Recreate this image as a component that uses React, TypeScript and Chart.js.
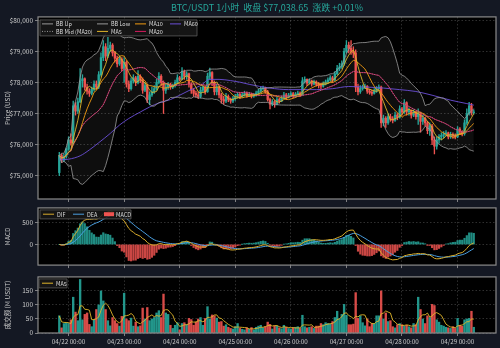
import React, { useEffect, useRef } from 'react';
import { Chart, registerables } from 'chart.js';

Chart.register(...registerables);

const FONT = "'Noto Sans CJK SC', 'Noto Sans', sans-serif";
const UP = '#26a69a';
const DOWN = '#ef5350';
const TEXT = '#c8c8c8';
const GRID = 'rgba(170,170,170,0.35)';

const titleText = 'BTC/USDT 1小时  收盘 $77,038.65  涨跌 +0.01%';

// hour offsets relative to 04/22 00:00
const START_HOUR = -4;
const X_MIN = -13.2;
const X_MAX = 184.6;
const firstOpen = 75100;
const PRICE_MIN = 74250;
const PRICE_MAX = 80110;

const closes = [
  75650, 75500, 75620, 75850, 76150, 76050, 77250, 77080, 77380, 78050,
  78120, 77850, 77720, 77650, 77780, 77950, 77850, 78250, 78800, 79150,
  78850, 79100, 79200, 78950, 78780, 78600, 78750, 78450, 78650, 77950,
  77800, 78050, 78150, 78000, 78200, 78100, 77750, 77900, 77450, 77600,
  77700, 77800, 78000, 78200, 78000, 77750, 77850, 77950, 77850, 77900,
  78000, 78150, 78100, 78350, 78200, 78280, 77950, 77750, 77650, 77600,
  77550, 77750, 77850, 77700, 78200, 78320, 78000, 77700, 77850, 77600,
  77450, 77400, 77550, 77450, 77400, 77480, 77550, 77620, 77550, 77600,
  77650, 77580, 77620, 77560, 77600, 77660, 77720, 77800, 77820, 77700,
  77450, 77300, 77380, 77300, 77450, 77400, 77500, 77600, 77520, 77580,
  77640, 77560, 77620, 77660, 77600, 78050, 78100, 77980, 78050, 77950,
  78020, 77940, 77900, 77880, 77960, 78020, 78080, 78150, 78080, 78280,
  78450, 78500, 78600, 79000, 79200, 79100, 79000, 78950, 77850, 77700,
  77800, 77850, 77880, 77720, 77680, 77650, 77720, 77800, 77850, 76700,
  76850, 76700, 76900, 76820, 76780, 76950, 76880, 77150, 77050, 77350,
  77050, 77100, 76950, 77050, 76900, 77000, 76750, 76850, 76700, 76450,
  76600, 76150, 75950, 76150, 76250, 76300, 76350, 76380, 76250, 76320,
  76280, 76250, 76500, 76400, 76350, 76700, 77000, 77250, 77030, 77038.65,
];

const highs = [
  75750, 75700, 75700, 75900, 76250, 76350, 77400, 77350, 77500, 78450,
  78250, 78150, 77950, 77800, 77850, 78050, 78050, 78350, 78950, 79350,
  79250, 79450, 79300, 79250, 79000, 78850, 78850, 78800, 78800, 78700,
  78050, 78150, 78250, 78200, 78380, 78250, 78150, 78000, 77950, 77700,
  77850, 77900, 78100, 78320, 78250, 78050, 77950, 78000, 77980, 77950,
  78080, 78250, 78200, 78480, 78400, 78350, 78300, 78000, 77800, 77720,
  77700, 77850, 77900, 77880, 78300, 78460, 78350, 78050, 77950, 77880,
  77650, 77550, 77650, 77600, 77500, 77550, 77620, 77680, 77650, 77680,
  77720, 77700, 77680, 77650, 77650, 77720, 77780, 77850, 77880, 77850,
  77750, 77500, 77450, 77420, 77520, 77500, 77560, 77680, 77650, 77650,
  77700, 77680, 77680, 77720, 77700, 78160, 78180, 78120, 78120, 78080,
  78080, 78050, 78000, 77980, 78020, 78080, 78150, 78220, 78200, 78350,
  78550, 78620, 78700, 79100, 79350, 79300, 79350, 79150, 79050, 77950,
  77900, 77920, 77950, 77900, 77780, 77750, 77800, 77870, 77920, 77880,
  76950, 76900, 77000, 76980, 76900, 77050, 77000, 77250, 77200, 77450,
  77380, 77180, 77120, 77120, 77080, 77150, 77050, 76950, 76880, 76750,
  76700, 76650, 76250, 76250, 76320, 76380, 76420, 76450, 76400, 76400,
  76380, 76350, 76580, 76550, 76450, 76800, 77150, 77360, 77330, 77120,
];

const lows = [
  75000, 75420, 75450, 75560, 75820, 75980, 76000, 76950, 77000, 77350,
  77850, 77750, 77620, 77550, 77600, 77720, 77780, 77800, 78200, 78700,
  78700, 78800, 79000, 78850, 78650, 78500, 78550, 78380, 78000, 77850,
  77700, 77750, 77980, 77900, 77950, 78000, 77650, 77700, 77350, 77280,
  77550, 77650, 77750, 77950, 77900, 77000, 77650, 77780, 77780, 77800,
  77850, 77950, 78050, 78080, 78100, 78100, 77850, 77650, 77550, 77520,
  77480, 77500, 77700, 77620, 77680, 78100, 77900, 77600, 77600, 77500,
  77330, 77300, 77350, 77380, 77330, 77350, 77420, 77500, 77480, 77520,
  77560, 77520, 77540, 77500, 77520, 77560, 77620, 77680, 77750, 77650,
  77400, 77150, 77250, 77200, 77280, 77330, 77380, 77480, 77450, 77500,
  77550, 77500, 77520, 77580, 77540, 77580, 77980, 77900, 77950, 77880,
  77920, 77880, 77820, 77800, 77850, 77920, 77980, 78050, 78000, 78050,
  78250, 78380, 78450, 78550, 78950, 78950, 78900, 78800, 77700, 77600,
  77650, 77750, 77800, 77650, 77620, 77580, 77620, 77680, 77750, 76550,
  76600, 76550, 76650, 76750, 76700, 76750, 76800, 76850, 76950, 77000,
  76950, 76950, 76850, 76900, 76820, 76650, 76400, 76650, 76600, 76350,
  76300, 76000, 75700, 75850, 76050, 76150, 76220, 76280, 76180, 76200,
  76200, 76180, 76220, 76320, 76280, 76300, 76650, 76950, 76950, 76980,
];

const volumes = [
  60, 18, 33, 36, 33, 46, 125, 73, 43, 187,
  46, 65, 70, 30, 22, 46, 82, 98, 147, 112,
  82, 43, 25, 54, 43, 33, 24, 58, 139, 49,
  43, 52, 24, 38, 22, 25, 87, 49, 89, 43,
  49, 54, 70, 78, 54, 136, 70, 65, 27, 16,
  27, 36, 11, 33, 36, 29, 51, 47, 27, 38,
  49, 54, 27, 51, 92, 49, 63, 60, 52, 38,
  40, 24, 29, 20, 16, 14, 22, 33, 16, 13,
  11, 18, 13, 19, 11, 20, 24, 27, 18, 22,
  38, 30, 14, 25, 24, 18, 15, 27, 20, 16,
  14, 18, 20, 22, 16, 62, 22, 18, 20, 22,
  16, 24, 24, 33, 29, 36, 33, 31, 40, 54,
  76, 49, 65, 100, 62, 29, 29, 31, 141, 51,
  60, 36, 25, 49, 22, 33, 33, 60, 60, 147,
  49, 70, 40, 43, 22, 18, 29, 33, 29, 24,
  27, 22, 18, 33, 29, 125, 82, 49, 33, 60,
  54, 100, 96, 46, 38, 27, 24, 20, 18, 16,
  22, 16, 51, 27, 24, 46, 49, 51, 76, 20,
];

// MA60
const ma60Hours = [-4, 0, 5, 9, 13, 18, 22, 26, 31, 35, 39, 44, 48, 52, 57, 61, 65, 70, 74, 78, 87, 95, 100, 107, 114, 121, 126, 136, 143, 150, 157, 165, 172, 175];
const ma60Values = [75510, 75530, 75640, 75830, 76060, 76360, 76630, 76840, 77050, 77210, 77340, 77450, 77590, 77740, 77900, 78100, 78100, 78060, 78010, 77940, 77820, 77770, 77770, 77770, 77800, 77870, 77860, 77820, 77770, 77710, 77590, 77430, 77320, 77270];

const dayTicks = [0, 24, 48, 72, 96, 120, 144, 168];
const dayLabels = ['04/22 00:00', '04/23 00:00', '04/24 00:00', '04/25 00:00', '04/26 00:00', '04/27 00:00', '04/28 00:00', '04/29 00:00'];
const priceTicks = [75000, 76000, 77000, 78000, 79000, 80000];
const macdTicks = [0, 500];
const volTicks = [0, 50, 100, 150];

const hours = closes.map((_, i) => START_HOUR + i);
const opens = closes.map((_, i) => (i === 0 ? firstOpen : closes[i - 1]));
const isUp = closes.map((c, i) => c >= opens[i]);

const windowOf = (arr: number[], i: number, n: number) => arr.slice(Math.max(0, i - n + 1), i + 1);
const rollMean = (arr: number[], n: number) => arr.map((_, i) => { const w = windowOf(arr, i, n); return w.reduce((a, b) => a + b, 0) / w.length; });
const rollStd = (arr: number[], n: number) => arr.map((_, i) => { const w = windowOf(arr, i, n); const m = w.reduce((a, b) => a + b, 0) / w.length; return Math.sqrt(w.reduce((a, b) => a + (b - m) * (b - m), 0) / w.length); });
const ema = (arr: number[], n: number) => { const k = 2 / (n + 1); const out: number[] = []; arr.forEach((v, i) => out.push(i === 0 ? v : v * k + out[i - 1] * (1 - k))); return out; };

const ma5 = rollMean(closes, 5);
const ma10 = rollMean(closes, 10);
const ma20 = rollMean(closes, 20);
const sd20 = rollStd(closes, 20);
const bbUp = ma20.map((m, i) => m + 2 * sd20[i]);
const bbLow = ma20.map((m, i) => m - 2 * sd20[i]);
const ema12 = ema(closes, 12);
const ema26 = ema(closes, 26);
const dif = ema12.map((v, i) => v - ema26[i]);
const dea = ema(dif, 9);
const hist = dif.map((v, i) => 2 * (v - dea[i]));
const volMa5 = rollMean(volumes, 5);

const pts = (vals: number[]) => vals.map((v, i) => ({ x: hours[i], y: v }));

const tickFont = { family: FONT, size: 6.5 };
const fmtPrice = (v: number) => '$' + v.toLocaleString('en-US');

function xScale(showLabels: boolean) {
  return {
    type: 'linear' as const,
    min: X_MIN,
    max: X_MAX,
    offset: false,
    afterBuildTicks: (s: any) => { s.ticks = dayTicks.map((v) => ({ value: v })); },
    afterFit: (s: any) => { s.height = showLabels ? 15 : 0; },
    ticks: {
      display: showLabels,
      autoSkip: false,
      maxRotation: 0,
      padding: 2,
      color: TEXT,
      font: { family: FONT, size: 6.3 },
      callback: (_v: any, i: number) => dayLabels[i],
    },
    grid: { color: GRID, lineWidth: 0.8, drawTicks: true, tickLength: 3, tickColor: '#9a9a9a', tickWidth: 0.8, tickBorderDash: [], offset: false },
    border: { display: false, dash: [1.5, 2] },
  };
}

function yScale(min: number, max: number, ticks: number[], title: string, fmt: (v: number) => string, showLabels = true) {
  return {
    type: 'linear' as const,
    position: 'left' as const,
    min,
    max,
    afterBuildTicks: (s: any) => { s.ticks = ticks.map((v) => ({ value: v })); },
    afterFit: (s: any) => { s.width = 38; },
    ticks: { display: showLabels, color: TEXT, font: tickFont, padding: 2, autoSkip: false, callback: (v: any) => fmt(Number(v)) },
    grid: { color: GRID, lineWidth: 0.8, drawTicks: true, tickLength: 3, tickColor: '#9a9a9a', tickWidth: 0.8, tickBorderDash: [] },
    border: { display: false, dash: [1.5, 2] },
    title: { display: true, text: title, color: TEXT, font: { family: FONT, size: 6.5 }, padding: { top: 4, bottom: 0 } },
  };
}

const framePlugin = {
  id: 'panelFrame',
  beforeDraw(chart: any) {
    const { ctx, chartArea: a } = chart;
    ctx.save();
    ctx.fillStyle = '#000000';
    ctx.fillRect(a.left, a.top, a.right - a.left, a.bottom - a.top);
    ctx.restore();
  },
  afterDraw(chart: any) {
    const { ctx, chartArea: a } = chart;
    ctx.save();
    ctx.strokeStyle = '#8a8a8a';
    ctx.lineWidth = 1.2;
    ctx.strokeRect(a.left, a.top, a.right - a.left, a.bottom - a.top);
    ctx.restore();
  },
};

type LegendItem = { label: string; color: string; kind: 'line' | 'patch'; x: number; y: number; dash?: number[] };

function legendPlugin(id: string, box: { x: number; y: number; w: number; h: number }, items: LegendItem[]) {
  return {
    id,
    afterDraw(chart: any) {
      const { ctx, chartArea: a } = chart;
      ctx.save();
      ctx.beginPath();
      ctx.rect(a.left + box.x, a.top + box.y, box.w, box.h);
      ctx.fillStyle = 'rgba(24,24,24,0.88)';
      ctx.fill();
      ctx.strokeStyle = '#5a5a5a';
      ctx.lineWidth = 0.8;
      ctx.stroke();
      ctx.font = `5.5px ${FONT}`;
      ctx.textBaseline = 'middle';
      ctx.textAlign = 'left';
      items.forEach((it) => {
        const ix = a.left + it.x;
        const iy = a.top + it.y;
        if (it.kind === 'patch') {
          ctx.fillStyle = it.color;
          ctx.fillRect(ix, iy - 2, 10, 4);
        } else {
          ctx.strokeStyle = it.color;
          ctx.lineWidth = 1;
          ctx.setLineDash(it.dash || []);
          ctx.beginPath();
          ctx.moveTo(ix, iy);
          ctx.lineTo(ix + 11, iy);
          ctx.stroke();
          ctx.setLineDash([]);
        }
        ctx.fillStyle = '#dcdcdc';
        ctx.fillText(it.label, ix + (it.kind === 'patch' ? 12 : 14), iy + 0.3);
      });
      ctx.restore();
    },
  };
}

// price axis labels drawn on the canvas from priceTicks through the y scale
const priceLabelPlugin = {
  id: 'priceLabels',
  afterDraw(chart: any) {
    const { ctx, chartArea: a } = chart;
    const y = chart.scales.y;
    ctx.save();
    ctx.font = `${tickFont.size}px ${FONT}`;
    ctx.fillStyle = TEXT;
    ctx.textAlign = 'right';
    ctx.textBaseline = 'middle';
    priceTicks.forEach((v) => ctx.fillText(fmtPrice(v), a.left - 5, y.getPixelForValue(v)));
    ctx.restore();
  },
};

const C_BB = '#9a9a9a';
const C_MA5 = '#e0b52a';
const C_MA10 = '#f39c12';
const C_MA20 = '#d81b60';
const C_MA60 = '#6b4fd8';
const C_DIF = '#d9ac2c';
const C_DEA = '#4a9fe0';

const lineDs = (label: string, data: any[], color: string, extra: any = {}) => ({
  type: 'line' as const,
  label,
  data,
  borderColor: color,
  borderWidth: 0.9,
  pointRadius: 0,
  tension: 0,
  order: 0,
  ...extra,
});

const baseOptions = (padding: any) => ({
  responsive: false,
  animation: false as const,
  events: [] as any[],
  layout: { padding },
  plugins: { legend: { display: false }, tooltip: { enabled: false } },
});

function PanelCanvas({ top, height, build }: { top: number; height: number; build: (c: HTMLCanvasElement) => Chart }) {
  const ref = useRef<HTMLCanvasElement | null>(null);
  useEffect(() => {
    if (!ref.current) return;
    const chart = build(ref.current);
    return () => chart.destroy();
  }, []);
  return <canvas ref={ref} width={500} height={height} style={{ position: 'absolute', left: 0, top, width: 500, height, display: 'block' }} />;
}

function buildPrice(canvas: HTMLCanvasElement) {
  const candleColors = isUp.map((u) => (u ? UP : DOWN));
  return new Chart(canvas, {
    type: 'bar',
    data: {
      datasets: [
        lineDs('BB Up', pts(bbUp), C_BB, { borderWidth: 0.8, fill: { target: 2 }, backgroundColor: 'rgba(255,255,255,0.055)' }),
        lineDs('BB Mid (MA20)', pts(ma20), C_BB, { borderWidth: 0.8, borderDash: [1, 1.5] }),
        lineDs('BB Low', pts(bbLow), C_BB, { borderWidth: 0.8 }),
        lineDs('MA5', pts(ma5), C_MA5),
        lineDs('MA10', pts(ma10), C_MA10),
        lineDs('MA20', pts(ma20), C_MA20),
        lineDs('MA60', ma60Values.map((v, i) => ({ x: ma60Hours[i], y: v })), C_MA60, { cubicInterpolationMode: 'monotone' }),
        {
          type: 'bar' as const,
          label: 'wick',
          data: hours.map((h, i) => ({ x: h, y: [lows[i], highs[i]] })) as any,
          backgroundColor: candleColors,
          barThickness: 0.7,
          grouped: false,
          order: 10,
        },
        {
          type: 'bar' as const,
          label: 'body',
          data: hours.map((h, i) => ({ x: h, y: [opens[i], closes[i]] })) as any,
          backgroundColor: candleColors,
          barThickness: 1.7,
          minBarLength: 0.6,
          grouped: false,
          order: 9,
        },
      ] as any,
    },
    options: {
      ...baseOptions({ top: 0, right: 4, bottom: 3, left: 0 }),
      plugins: {
        legend: { display: false },
        tooltip: { enabled: false },
        filler: { drawTime: 'beforeDatasetsDraw' },
        title: {
          display: true,
          text: titleText,
          color: UP,
          fullSize: false,
          align: 'center',
          font: { family: FONT, size: 9, weight: 'normal', lineHeight: 1.1 },
          padding: { top: 3, bottom: 4 },
        },
      },
      scales: {
        x: xScale(false),
        y: yScale(PRICE_MIN, PRICE_MAX, priceTicks, 'Price (USD)', fmtPrice, false),
      },
    } as any,
    plugins: [
      framePlugin,
      legendPlugin('priceLegend', { x: 2, y: 3, w: 157, h: 16 }, [
        { label: 'BB Up', color: C_BB, kind: 'line', x: 4, y: 7 },
        { label: 'BB Mid (MA20)', color: C_BB, kind: 'line', x: 4, y: 14.5, dash: [1, 1.5] },
        { label: 'BB Low', color: C_BB, kind: 'line', x: 59, y: 7 },
        { label: 'MA5', color: C_MA5, kind: 'line', x: 59, y: 14.5 },
        { label: 'MA10', color: C_MA10, kind: 'line', x: 97, y: 7 },
        { label: 'MA20', color: C_MA20, kind: 'line', x: 97, y: 14.5 },
        { label: 'MA60', color: C_MA60, kind: 'line', x: 132, y: 7 },
      ]),
      priceLabelPlugin,
    ] as any,
  });
}

function buildMacd(canvas: HTMLCanvasElement) {
  return new Chart(canvas, {
    type: 'bar',
    data: {
      datasets: [
        lineDs('DIF', pts(dif), C_DIF, { borderWidth: 1 }),
        lineDs('DEA', pts(dea), C_DEA, { borderWidth: 1 }),
        {
          type: 'bar' as const,
          label: 'MACD',
          data: pts(hist) as any,
          backgroundColor: hist.map((v) => (v >= 0 ? 'rgba(38,166,154,0.85)' : 'rgba(239,83,80,0.85)')),
          barThickness: 1.5,
          grouped: false,
          order: 10,
        },
      ] as any,
    },
    options: {
      ...baseOptions({ top: 4, right: 4, bottom: 4, left: 0 }),
      scales: {
        x: xScale(false),
        y: yScale(-480, 850, macdTicks, 'MACD', (v) => String(v)),
      },
    } as any,
    plugins: [
      framePlugin,
      legendPlugin('macdLegend', { x: 2, y: 2, w: 91, h: 9 }, [
        { label: 'DIF', color: C_DIF, kind: 'line', x: 5, y: 6.3 },
        { label: 'DEA', color: C_DEA, kind: 'line', x: 35, y: 6.3 },
        { label: 'MACD', color: DOWN, kind: 'patch', x: 66, y: 6.3 },
      ]),
    ] as any,
  });
}

function buildVolume(canvas: HTMLCanvasElement) {
  return new Chart(canvas, {
    type: 'bar',
    data: {
      datasets: [
        lineDs('MA5', pts(volMa5), C_MA5, { borderWidth: 0.9 }),
        {
          type: 'bar' as const,
          label: '成交额',
          data: pts(volumes) as any,
          backgroundColor: isUp.map((u) => (u ? 'rgba(38,166,154,0.9)' : 'rgba(239,83,80,0.9)')),
          barThickness: 1.7,
          grouped: false,
          order: 10,
        },
      ] as any,
    },
    options: {
      ...baseOptions({ top: 2, right: 4, bottom: 0, left: 0 }),
      scales: {
        x: xScale(true),
        y: yScale(0, 196, volTicks, '成交额 (M USDT)', (v) => String(v)),
      },
    } as any,
    plugins: [
      framePlugin,
      legendPlugin('volLegend', { x: 1, y: 2, w: 28, h: 9 }, [
        { label: 'MA5', color: C_MA5, kind: 'line', x: 4, y: 6.3 },
      ]),
    ] as any,
  });
}

export default function App() {
  return (
    <div style={{ position: 'absolute', left: 0, top: 0, width: 500, height: 348, background: '#141823', overflow: 'hidden' }}>
      <PanelCanvas top={0} height={202} build={buildPrice} />
      <PanelCanvas top={202} height={69} build={buildMacd} />
      <PanelCanvas top={271} height={77} build={buildVolume} />
    </div>
  );
}
